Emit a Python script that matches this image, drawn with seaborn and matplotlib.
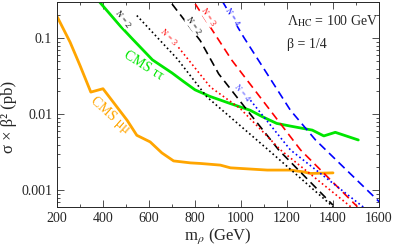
import matplotlib
matplotlib.use('Agg')
import matplotlib.pyplot as plt
import matplotlib.ticker as mticker
import numpy as np
import seaborn as sns

# CMS limits
mass_tautau = [385, 435, 475, 525, 615, 700, 750, 800, 865, 955, 1040, 1090, 1155, 1215, 1310, 1360, 1410, 1510]
limit_tautau = [0.30, 0.2, 0.145, 0.1, 0.052, 0.035, 0.027, 0.021, 0.0172, 0.0138,
                0.0113, 0.0094, 0.0076, 0.0070, 0.0062, 0.0052, 0.0058, 0.0046]
mass_mumu = [200, 257, 300, 347, 400, 505, 547, 605, 656, 707, 780, 823, 910, 954, 1114, 1215, 1272, 1302, 1400]
limit_mumu = [0.194, 0.0887, 0.0439, 0.0196, 0.0217, 0.00834, 0.0053, 0.00434, 0.00311, 0.00244,
              0.0023, 0.00226, 0.00215, 0.00198, 0.00185, 0.00185, 0.00175, 0.00167, 0.0017]

# theory curves: dashed and dotted for N = 2, 3, 4
mass_n2_dash = [700, 823, 903, 1027, 1164, 1400]
xs_n2_dash = [0.2825, 0.093, 0.034, 0.0113, 0.0034, 0.00064]
mass_n2_dot = [547, 722, 852, 1119, 1400]
xs_n2_dot = [0.199, 0.054, 0.0169, 0.0034, 0.00061]
mass_n3_dash = [801, 961, 1259, 1506]
xs_n3_dash = [0.2825, 0.051, 0.0034, 0.00061]
mass_n3_dot = [728, 867, 997, 1172, 1477]
xs_n3_dot = [0.076, 0.0228, 0.0119, 0.0034, 0.00061]
mass_n4_dash = [918, 1012, 1215, 1324, 1607]
xs_n4_dash = [0.31, 0.103, 0.0113, 0.0046, 0.00068]
mass_n4_dot = [1041, 1215, 1533]
xs_n4_dot = [0.0153, 0.0034, 0.0006]

sns.set_style('ticks')
plt.rcParams['font.family'] = ['Liberation Serif', 'DejaVu Serif']
plt.rcParams['mathtext.fontset'] = 'stix'

fig = plt.figure(figsize=(3.95, 2.45), dpi=100)
ax = fig.add_axes([0.1443, 0.154, 0.8152, 0.838])

green = '#00e600'
orange = '#ffa500'
sns.lineplot(x=mass_tautau, y=limit_tautau, ax=ax, color=green, lw=2.0)
sns.lineplot(x=mass_mumu, y=limit_mumu, ax=ax, color=orange, lw=2.0)

theory = [
    (mass_n2_dot, xs_n2_dot, 'black', ':'),
    (mass_n2_dash, xs_n2_dash, 'black', (0, (5, 3))),
    (mass_n3_dot, xs_n3_dot, '#ff0000', ':'),
    (mass_n3_dash, xs_n3_dash, '#ff0000', (0, (5, 3))),
    (mass_n4_dot, xs_n4_dot, '#0000ff', ':'),
    (mass_n4_dash, xs_n4_dash, '#0000ff', (0, (5, 3))),
]
for m, xs, col, ls in theory:
    sns.lineplot(x=m, y=xs, ax=ax, color=col, lw=1.2, linestyle=ls)

ax.set_yscale('log')
ax.set_xlim(200, 1600)
ax.set_ylim(6e-4, 0.3)
ax.xaxis.set_major_locator(mticker.MultipleLocator(200))
ax.xaxis.set_minor_locator(mticker.MultipleLocator(100))
ax.yaxis.set_major_locator(mticker.FixedLocator([0.001, 0.01, 0.1]))
ax.yaxis.set_major_formatter(mticker.FixedFormatter(['0.001', '0.01', '0.1']))
ax.yaxis.set_minor_locator(mticker.LogLocator(base=10, subs=np.arange(2, 10)))
ax.yaxis.set_minor_formatter(mticker.NullFormatter())
ax.tick_params(which='both', direction='in', top=True, right=True, labelsize=10, color='#333333')
ax.tick_params(which='major', length=5, width=0.6)
ax.tick_params(which='minor', length=2.5, width=0.6)
for s in ax.spines.values():
    s.set_linewidth(0.7)

ax.set_xlabel(r'm$_\rho$ (GeV)', fontsize=12, labelpad=1)
ax.set_ylabel('σ × β² (pb)', fontsize=12)
ax.yaxis.set_label_coords(-0.125, 0.44)

ax.text(0.714, 0.905, r'Λ$_{\rm HC}$ = 100 GeV', transform=ax.transAxes,
        ha='left', va='center', fontsize=10)
ax.text(0.714, 0.795, 'β = 1/4', transform=ax.transAxes,
        ha='left', va='center', fontsize=10)

ax.text(575, 0.044, 'CMS ττ', color=green, fontsize=10, rotation=-32, ha='center', va='center')
ax.text(430, 0.0098, 'CMS μμ', color=orange, fontsize=10, rotation=-42, ha='center', va='center')

box = dict(facecolor='white', edgecolor='none', pad=0.3)
labels = [
    (483, 0.18, 'black', -52),
    (684, 0.102, '#ff0000', -45),
    (793, 0.147, 'black', -55),
    (858, 0.19, '#ff0000', -57),
    (962, 0.19, '#0000ff', -57),
    (1002, 0.0189, '#4040ff', -50),
]
names = ['N = 2', 'N = 3', 'N = 2', 'N = 3', 'N = 4', 'N = 4']
for (mx, yv, col, rot), name in zip(labels, names):
    ax.text(mx, yv, name, color=col, fontsize=6, rotation=rot, ha='center', va='center', bbox=box)

fig.savefig('out.png', dpi=100)
